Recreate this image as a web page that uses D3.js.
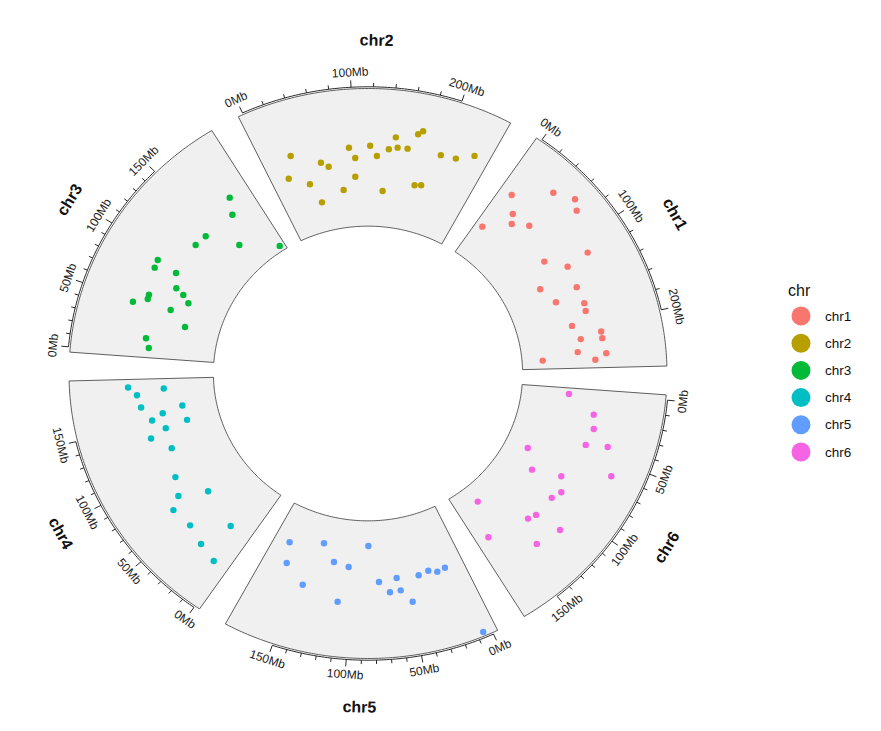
<!DOCTYPE html>
<html>
<head>
<meta charset="utf-8">
<script src="https://cdn.jsdelivr.net/npm/d3@7"></script>
<style>
  html, body { margin: 0; padding: 0; background: #fff; }
  svg { display: block; font-family: "Liberation Sans", Arial, sans-serif; }
</style>
</head>
<body>
<svg id="chart" width="881" height="731"></svg>
<script>
// ---------------- data ----------------
const chromosomes = ["chr1", "chr2", "chr3", "chr4", "chr5", "chr6"];
const chromLengthsMb = [249.25, 243.2, 198.0, 191.15, 180.9, 171.1];
const colors = ["#F8766D", "#B79F00", "#00BA38", "#00BFC4", "#619CFF", "#F564E3"];
const minorTickStep = [20, 20, 10, 10, 10, 10];
const labelStep = [100, 100, 50, 50, 50, 50];
const tickMaxMb = [200, 200, 150, 150, 150, 150];

const chr1Pos = [10.3, 43.0, 63.2, 73.4, 26.4, 34.2, 51.6, 5.9, 117.9, 100.4, 121.2, 149.2, 131.5, 157.7, 171.3, 181.1, 195.6, 210.3, 218.4, 215.4, 232.2, 236.9, 244.1, 240.2];
const chr1Val = [0.564, 0.766, 0.842, 0.797, 0.462, 0.403, 0.479, 0.258, 0.686, 0.396, 0.515, 0.505, 0.270, 0.330, 0.512, 0.504, 0.384, 0.573, 0.572, 0.424, 0.390, 0.586, 0.507, 0.143];
const chr2Pos = [27.7, 16.1, 39.0, 59.0, 67.1, 48.0, 93.6, 100.0, 98.6, 81.4, 117.5, 125.5, 135.4, 138.7, 145.0, 148.3, 159.5, 177.0, 185.4, 167.8, 172.2, 197.4, 214.4, 231.8];
const chr2Val = [0.598, 0.447, 0.362, 0.495, 0.456, 0.213, 0.575, 0.498, 0.362, 0.273, 0.584, 0.511, 0.259, 0.565, 0.656, 0.583, 0.586, 0.335, 0.346, 0.702, 0.730, 0.594, 0.605, 0.674];
const chr3Pos = [181.6, 172.9, 137.7, 124.2, 155.7, 194.7, 91.9, 84.2, 89.0, 74.7, 58.3, 54.0, 71.0, 64.4, 47.2, 50.6, 36.4, 15.6, 6.2];
const chr3Val = [0.526, 0.417, 0.432, 0.445, 0.220, 0.040, 0.603, 0.595, 0.446, 0.394, 0.551, 0.548, 0.330, 0.274, 0.639, 0.372, 0.241, 0.488, 0.459];
const chr4Pos = [187.6, 184.3, 179.8, 167.7, 162.9, 158.4, 153.3, 145.3, 142.4, 136.5, 120.7, 92.5, 62.2, 75.3, 67.1, 47.0, 19.4, 28.2, 10.1];
const chr4Val = [0.594, 0.348, 0.537, 0.520, 0.236, 0.380, 0.463, 0.227, 0.385, 0.504, 0.393, 0.461, 0.329, 0.516, 0.603, 0.583, 0.390, 0.624, 0.661];
const chr5Pos = [168.5, 133.8, 85.2, 162.8, 119.5, 104.5, 142.6, 75.6, 59.2, 38.9, 29.2, 21.6, 13.8, 66.6, 57.2, 110.7, 48.9, 5.7];
const chr5Val = [0.270, 0.200, 0.183, 0.417, 0.319, 0.342, 0.529, 0.446, 0.428, 0.437, 0.422, 0.447, 0.438, 0.526, 0.521, 0.601, 0.616, 0.970];
const chr6Pos = [2.5, 18.0, 29.9, 44.8, 41.0, 68.0, 86.2, 78.1, 60.9, 90.1, 98.6, 149.1, 118.5, 125.5, 115.5, 162.9, 135.6];
const chr6Val = [0.329, 0.521, 0.544, 0.524, 0.673, 0.161, 0.263, 0.462, 0.772, 0.522, 0.490, 0.131, 0.482, 0.459, 0.679, 0.382, 0.632];

const pointPos = [chr1Pos, chr2Pos, chr3Pos, chr4Pos, chr5Pos, chr6Pos];
const pointVal = [chr1Val, chr2Val, chr3Val, chr4Val, chr5Val, chr6Val];

// ---------------- layout ----------------
const cx = 368, cy = 373.5, rx = 299, ry = 285;
const firstStart = 55.7, slot = 60, span = 54.2;
const rInner = 0.517, rOuter = 1.0;

const svg = d3.select("#chart");

const angleScales = chromosomes.map((c, i) => {
  const L = chromLengthsMb[i];
  const s = firstStart + slot * i;
  return d3.scaleLinear().domain([-0.02 * L, 1.02 * L]).range([s, s - span]);
});
const radial = d3.scaleLinear().domain([0, 1]).range([rInner, rOuter]);

function pt(thetaDeg, r) {
  const a = thetaDeg * Math.PI / 180;
  return [cx + rx * r * Math.cos(a), cy - ry * r * Math.sin(a)];
}
function readableRot(thetaDeg) {
  let t = thetaDeg - 90;
  while (t <= -90) t += 180;
  while (t > 90) t -= 180;
  return -t;
}

const line = d3.line();

chromosomes.forEach((chr, i) => {
  const sc = angleScales[i];
  const [d0, d1] = sc.domain();
  const n = 80;
  const outer = d3.range(n + 1).map(k => pt(sc(d0 + (d1 - d0) * k / n), rOuter));
  const inner = d3.range(n + 1).map(k => pt(sc(d1 - (d1 - d0) * k / n), rInner));
  const g = svg.append("g");
  g.append("path")
    .attr("d", line(outer.concat(inner)) + "Z")
    .attr("fill", "#f0f0f0")
    .attr("stroke", "#4d4d4d")
    .attr("stroke-width", 0.9);

  // axis arc
  const axisPts = d3.range(n + 1).map(k => pt(sc(tickMaxMb[i] * k / n), rOuter + 0.006));
  g.append("path").attr("d", line(axisPts)).attr("fill", "none").attr("stroke", "#111").attr("stroke-width", 0.9);

  // ticks
  const ticks = d3.range(0, tickMaxMb[i] + 0.001, minorTickStep[i]);
  ticks.forEach(t => {
    const major = t % labelStep[i] === 0;
    const th = sc(t);
    const p0 = pt(th, rOuter + 0.006);
    const p1 = pt(th, rOuter + 0.006 + (major ? 7 : 4) / 290);
    g.append("line").attr("x1", p0[0]).attr("y1", p0[1]).attr("x2", p1[0]).attr("y2", p1[1])
      .attr("stroke", "#111").attr("stroke-width", 0.9);
    if (major) {
      const pl = pt(th, 1.058);
      g.append("text")
        .attr("transform", `translate(${pl[0]},${pl[1]}) rotate(${readableRot(th)})`)
        .attr("text-anchor", "middle")
        .attr("dominant-baseline", "central")
        .attr("font-size", 12)
        .attr("fill", "#222")
        .text(t + "Mb");
    }
  });

  // chromosome label
  const mid = (sc.range()[0] + sc.range()[1]) / 2;
  const pc = pt(mid, 1.17);
  g.append("text")
    .attr("transform", `translate(${pc[0]},${pc[1]}) rotate(${readableRot(mid)})`)
    .attr("text-anchor", "middle")
    .attr("dominant-baseline", "central")
    .attr("font-size", 16)
    .attr("font-weight", "bold")
    .attr("fill", "#111")
    .text(chr);

  // points
  g.selectAll("circle.pt")
    .data(pointPos[i].map((p, k) => ({ p, v: pointVal[i][k] })))
    .enter().append("circle")
    .attr("class", "pt")
    .attr("cx", d => pt(sc(d.p), radial(d.v))[0])
    .attr("cy", d => pt(sc(d.p), radial(d.v))[1])
    .attr("r", 3.2)
    .attr("fill", colors[i]);
});

// ---------------- legend ----------------
const legend = svg.append("g").attr("transform", "translate(788,0)");
legend.append("text").attr("x", 0).attr("y", 296).attr("font-size", 16).attr("fill", "#111").text("chr");
const legY = d3.scaleLinear().domain([0, 5]).range([316, 452]);
chromosomes.forEach((chr, i) => {
  legend.append("circle").attr("cx", 13).attr("cy", legY(i)).attr("r", 9.5).attr("fill", colors[i]);
  legend.append("text").attr("x", 37).attr("y", legY(i)).attr("dominant-baseline", "central")
    .attr("font-size", 13.5).attr("fill", "#111").text(chr);
});
</script>
</body>
</html>
